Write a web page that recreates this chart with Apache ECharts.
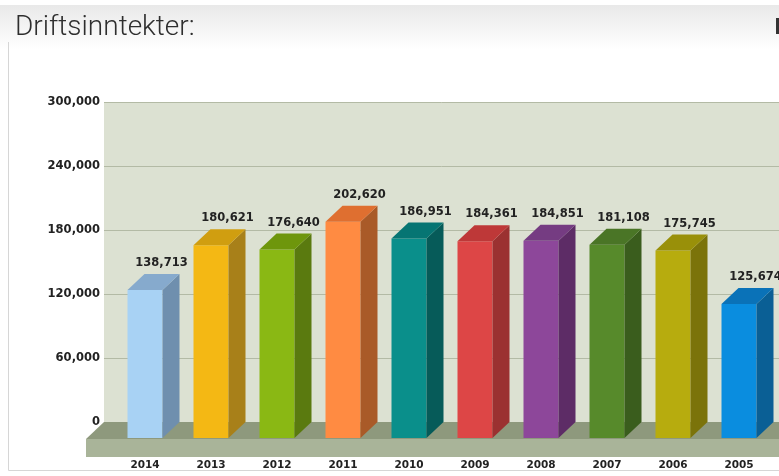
<!DOCTYPE html>
<html>
<head>
<meta charset="utf-8">
<script src="https://cdn.jsdelivr.net/npm/echarts@6/dist/echarts.min.js"></script>
<style>
html,body{margin:0;padding:0;background:#fff;}
#c{width:779px;height:476px;}
</style>
</head>
<body>
<div id="c"></div>
<script>
const years = ['2014','2013','2012','2011','2010','2009','2008','2007','2006','2005'];
const values = [138713, 180621, 176640, 202620, 186951, 184361, 184851, 181108, 175745, 125674];
const yMin = 0, yMax = 300000, yStep = 60000;
const frontColors = ['#a8d2f4','#f4b814','#8ab814','#ff8b42','#0a8f8b','#dd4646','#8d479a','#578a2b','#b7ac0e','#0a8ddf'];
const sideColors  = ['#6f8fae','#a88019','#5a7a0f','#a95a28','#065b59','#9b3131','#5d2c66','#3a5d1d','#7b730a','#0a5f95'];
const topColors   = ['#86aacd','#d09e10','#6e960c','#df6f30','#067573','#be3838','#753c82','#4a7526','#999009','#0a72b8'];

const fmt = v => v.toLocaleString('en-US');
const DX = 17, DY = 16, BAR_W = 35;

const chart = echarts.init(document.getElementById('c'), null, {renderer: 'canvas'});
chart.setOption({
  animation: false,
  backgroundColor: '#ffffff',
  title: {
    text: 'Driftsinntekter:',
    left: 10, top: 9,
    textStyle: {fontFamily: 'Roboto', fontWeight: 300, fontSize: 28, color: '#2e2e2e'}
  },
  graphic: [
    {type: 'rect', z: -10, silent: true, shape: {x: 0, y: 5, width: 779, height: 44},
     style: {fill: new echarts.graphic.LinearGradient(0, 0, 0, 1, [
       {offset: 0, color: '#e9e9e9'}, {offset: 1, color: '#ffffff'}])}},
    {type: 'polyline', z: -9, silent: true, shape: {points: [[8.5, 42], [8.5, 470.5], [779, 470.5]]},
     style: {stroke: '#d6d6d6', lineWidth: 1, fill: null}},
    {type: 'rect', z: 5, silent: true, shape: {x: 776, y: 18, width: 3, height: 16},
     style: {fill: '#333'}}
  ],
  grid: [
    {left: 104, right: 0, top: 102, bottom: 54, show: true, backgroundColor: '#dce1d2', borderWidth: 0},
    {left: 112, width: 660, top: 102, bottom: 54}
  ],
  xAxis: [
    {gridIndex: 0, type: 'value', min: 0, max: 1, show: false},
    {gridIndex: 1, type: 'category', data: years,
     axisLine: {show: false}, axisTick: {show: false},
     axisLabel: {margin: 38, color: '#222', fontFamily: 'DejaVu Sans', fontWeight: 'bold', fontSize: 10.5}}
  ],
  yAxis: [
    {gridIndex: 0, type: 'value', min: yMin, max: yMax, interval: yStep,
     axisLine: {show: false},
     axisTick: {show: false},
     axisLabel: {formatter: v => fmt(v), margin: 4, color: '#222', fontFamily: 'DejaVu Sans', fontWeight: 'bold', fontSize: 11.5},
     splitLine: {show: true, lineStyle: {color: '#b3baa5', width: 1}}},
    {gridIndex: 1, type: 'value', min: yMin, max: yMax, show: false}
  ],
  series: [
    {
      type: 'custom', xAxisIndex: 0, yAxisIndex: 0, silent: true, clip: false, z: 1,
      data: [[0, yMin]],
      renderItem: function (params, api) {
        const a = api.coord([0, yMin]);
        const b = api.coord([1, yMin]);
        const fd = 18, fh = 17, slab = 18, ext = 40;
        const rx = b[0] + ext;
        return {
          type: 'group',
          children: [
            {type: 'polygon', shape: {points: [[a[0], a[1]], [rx, a[1]], [rx, a[1] + fh], [a[0] - fd, a[1] + fh]]},
             style: {fill: '#8e997d'}},
            {type: 'rect', shape: {x: a[0] - fd, y: a[1] + fh, width: rx - a[0] + fd, height: slab},
             style: {fill: '#a9b499'}}
          ]
        };
      }
    },
    {
      type: 'custom', xAxisIndex: 1, yAxisIndex: 1, silent: true, clip: false, z: 2,
      data: values.map((v, i) => [i, v]),
      encode: {x: 0, y: 1},
      renderItem: function (params, api) {
        const i = api.value(0), v = api.value(1);
        const top = api.coord([i, v]);
        const base = api.coord([i, yMin]);
        const cx = top[0];
        const l = cx - BAR_W / 2, r = cx + BAR_W / 2;
        const yt = top[1] + DY, yb = base[1] + DY;
        return {
          type: 'group',
          children: [
            {type: 'rect', shape: {x: l, y: yt, width: BAR_W, height: yb - yt}, style: {fill: frontColors[i]}},
            {type: 'polygon', shape: {points: [[r, yt], [r + DX, yt - DY], [r + DX, yb - DY], [r, yb]]}, style: {fill: sideColors[i]}},
            {type: 'polygon', shape: {points: [[l, yt], [l + DX, yt - DY], [r + DX, yt - DY], [r, yt]]}, style: {fill: topColors[i]}},
            {type: 'text', x: cx + DX / 2 + 8, y: top[1] - 5,
             style: {text: fmt(v), fill: '#222', font: 'bold 11.5px "DejaVu Sans"',
                     align: 'center', verticalAlign: 'bottom', textAlign: 'center', textVerticalAlign: 'bottom'}}
          ]
        };
      }
    }
  ]
});
</script>
</body>
</html>
